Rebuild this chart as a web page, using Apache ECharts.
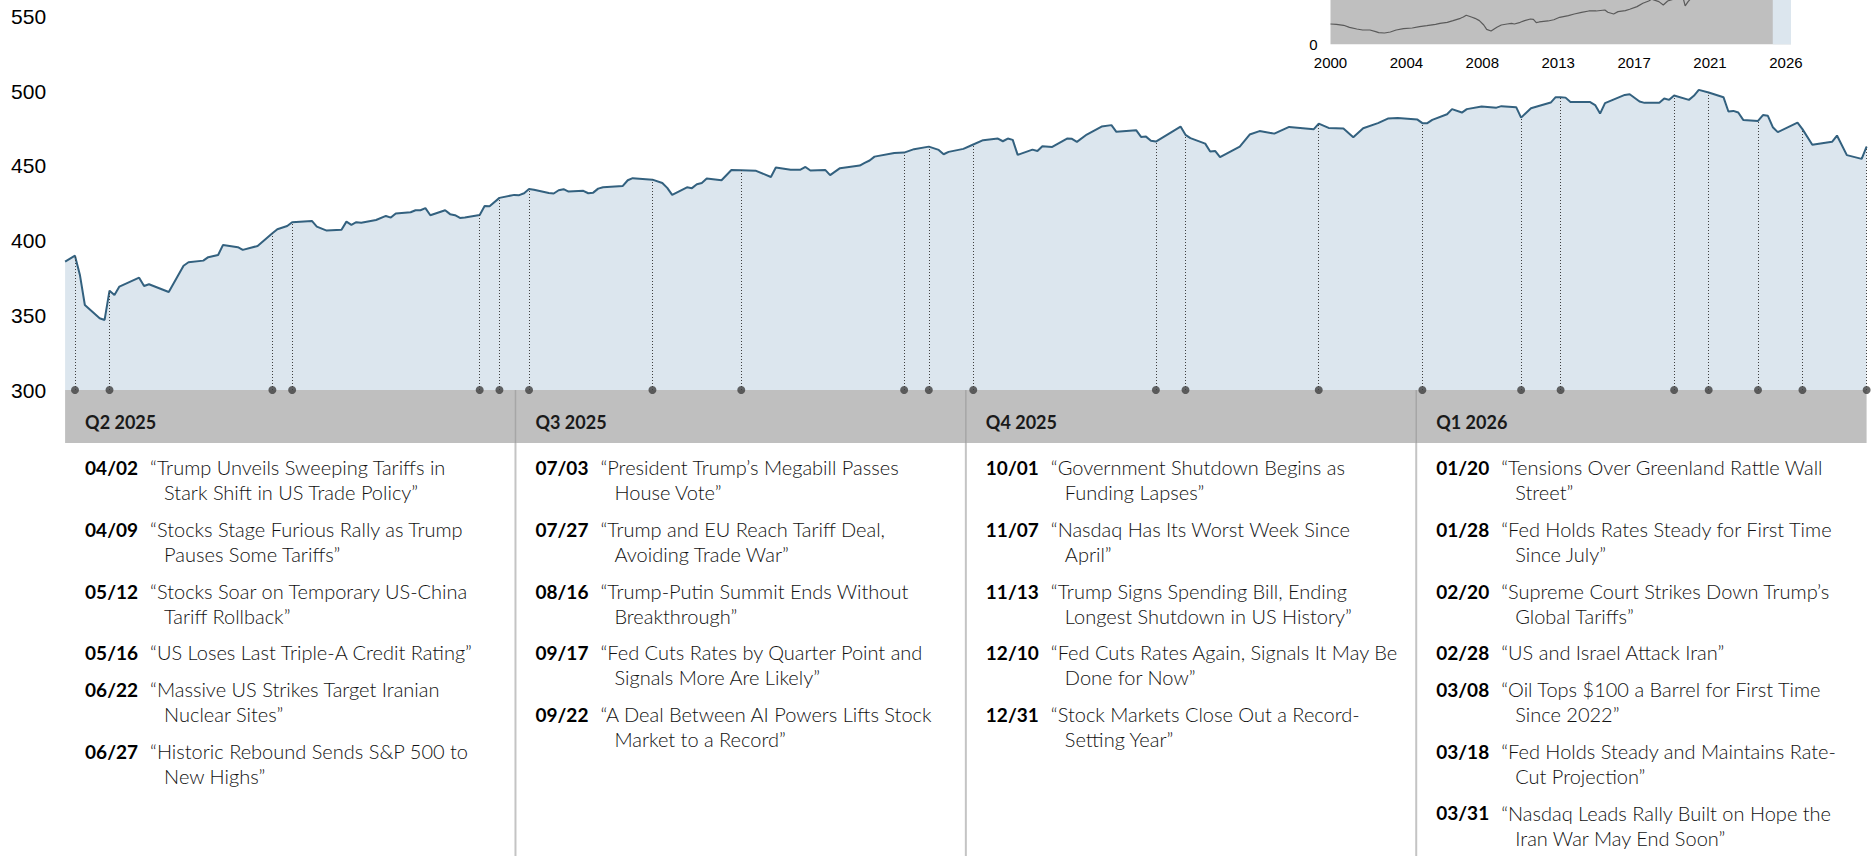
<!DOCTYPE html>
<html>
<head>
<meta charset="utf-8">
<script src="https://cdn.jsdelivr.net/npm/echarts@6/dist/echarts.min.js"></script>
<style>
  html, body { margin: 0; padding: 0; background: #fff; }
  #chart { width: 1875px; height: 856px; }
</style>
</head>
<body>
<div id="chart"></div>
<script>
// index level, rebased 2000 = 100 (daily)
const dates = [
  '2025-03-31','2025-04-02','2025-04-03','2025-04-04','2025-04-07','2025-04-08','2025-04-09','2025-04-10','2025-04-11','2025-04-15',
  '2025-04-16','2025-04-17','2025-04-21','2025-04-24','2025-04-25','2025-04-28','2025-04-29','2025-05-01','2025-05-02','2025-05-05',
  '2025-05-06','2025-05-09','2025-05-12','2025-05-13','2025-05-15','2025-05-16','2025-05-20','2025-05-21','2025-05-23','2025-05-26',
  '2025-05-27','2025-05-28','2025-05-29','2025-05-30','2025-06-02','2025-06-04','2025-06-05','2025-06-06','2025-06-09','2025-06-10',
  '2025-06-11','2025-06-12','2025-06-13','2025-06-16','2025-06-17','2025-06-18','2025-06-19','2025-06-20','2025-06-23','2025-06-24',
  '2025-06-25','2025-06-27','2025-06-30','2025-07-01','2025-07-02','2025-07-03','2025-07-04','2025-07-07','2025-07-08','2025-07-09',
  '2025-07-10','2025-07-11','2025-07-14','2025-07-15','2025-07-16','2025-07-17','2025-07-18','2025-07-22','2025-07-23','2025-07-24',
  '2025-07-28','2025-07-30','2025-07-31','2025-08-01','2025-08-04','2025-08-05','2025-08-06','2025-08-07','2025-08-08','2025-08-11',
  '2025-08-13','2025-08-15','2025-08-18','2025-08-21','2025-08-22','2025-08-25','2025-08-27','2025-08-28','2025-08-29','2025-09-01',
  '2025-09-02','2025-09-04','2025-09-08','2025-09-09','2025-09-10','2025-09-11','2025-09-15','2025-09-17','2025-09-19','2025-09-22',
  '2025-09-24','2025-09-25','2025-09-26','2025-09-29','2025-10-01','2025-10-03','2025-10-06','2025-10-07','2025-10-08','2025-10-09',
  '2025-10-10','2025-10-13','2025-10-14','2025-10-15','2025-10-17','2025-10-20','2025-10-21','2025-10-22','2025-10-24','2025-10-27',
  '2025-10-29','2025-10-30','2025-11-03','2025-11-04','2025-11-05','2025-11-06','2025-11-07','2025-11-12','2025-11-13','2025-11-14',
  '2025-11-17','2025-11-18','2025-11-19','2025-11-20','2025-11-24','2025-11-26','2025-11-28','2025-12-01','2025-12-04','2025-12-09',
  '2025-12-10','2025-12-12','2025-12-15','2025-12-17','2025-12-19','2025-12-22','2025-12-24','2025-12-26','2025-12-30','2025-12-31',
  '2026-01-01','2026-01-02','2026-01-05','2026-01-06','2026-01-08','2026-01-09','2026-01-12','2026-01-15','2026-01-16','2026-01-19',
  '2026-01-20','2026-01-22','2026-01-26','2026-01-27','2026-01-28','2026-01-29','2026-01-30','2026-02-03','2026-02-04','2026-02-05',
  '2026-02-06','2026-02-10','2026-02-11','2026-02-13','2026-02-14','2026-02-17','2026-02-18','2026-02-19','2026-02-20','2026-02-23',
  '2026-02-24','2026-02-25','2026-02-27','2026-03-02','2026-03-03','2026-03-04','2026-03-05','2026-03-06','2026-03-09','2026-03-10',
  '2026-03-11','2026-03-12','2026-03-13','2026-03-17','2026-03-18','2026-03-20','2026-03-24','2026-03-25','2026-03-27','2026-03-30',
  '2026-03-31'
];
const values = [
  385.9,389.9,377.0,356.9,348.0,346.9,366.5,363.6,369.2,375.2,
  369.6,370.8,365.6,383.2,385.5,386.6,388.9,390.4,397.1,395.6,
  393.8,396.4,404.9,407.6,409.8,412.3,413.2,409.4,406.7,407.3,
  412.7,410.5,412.3,412.0,413.8,416.5,415.4,418.2,419.0,420.3,
  420.3,421.7,417.0,420.3,417.7,417.0,415.2,415.4,417.2,423.2,
  423.0,428.6,430.6,430.4,431.7,434.6,434.1,431.9,431.5,433.7,
  434.4,432.8,433.3,431.7,432.1,434.8,435.7,436.6,440.4,441.8,
  440.8,438.6,435.3,430.6,435.7,435.1,437.7,438.6,441.5,440.4,
  447.3,447.1,446.7,442.6,448.9,447.5,447.5,449.3,446.9,447.3,
  443.8,448.5,450.2,452.0,453.6,456.2,458.7,458.9,461.2,462.9,
  460.7,457.8,459.4,461.4,464.3,467.2,468.3,466.5,468.3,467.4,
  457.4,460.9,460.0,463.2,462.7,468.3,468.1,466.1,471.0,476.3,
  477.3,472.8,473.9,469.4,469.6,466.9,466.3,476.3,470.8,468.6,
  464.9,459.6,460.0,455.8,462.9,471.0,473.3,471.6,476.1,474.6,
  478.3,475.4,475.0,469.2,475.2,478.6,481.7,482.1,481.0,478.6,
  478.6,480.8,484.6,488.0,485.7,488.0,489.7,489.0,490.0,489.3,
  482.3,488.6,492.4,496.0,495.9,495.7,492.7,492.7,490.7,485.0,
  492.0,497.5,498.0,493.1,492.2,492.2,495.1,494.2,497.1,494.2,
  496.9,500.9,499.1,496.0,486.4,486.8,485.7,480.8,480.1,484.0,
  483.5,475.9,472.6,479.0,474.6,464.1,466.1,470.3,457.2,454.7,
  462.9
];

// long-run inset (same index, monthly)
const histMonths = [
  '2000-01','2000-05','2000-10','2001-02','2001-07','2001-11','2002-04','2002-08','2002-10','2003-02',
  '2003-06','2003-10','2004-03','2004-09','2005-02','2005-07','2006-01','2006-04','2006-09','2007-01',
  '2007-06','2007-08','2007-10','2008-02','2008-04','2008-07','2008-10','2008-12','2009-03','2009-07',
  '2009-10','2010-02','2010-05','2010-07','2010-11','2011-02','2011-06','2011-08','2011-10','2011-12',
  '2012-03','2012-06','2012-10','2013-02','2013-08','2013-12','2014-05','2014-10','2015-03','2015-09',
  '2015-11','2016-03','2016-06','2016-11','2017-02','2017-07','2017-11','2018-03','2018-05','2018-10',
  '2019-01','2019-04','2019-08','2020-02','2020-04','2020-06','2020-11','2021-01','2021-07','2021-12',
  '2022-04','2022-10','2023-01','2023-07','2023-10','2023-12','2024-07','2024-12','2025-03','2025-06',
  '2025-09','2025-12','2026-03'
];
const histValues = [
  100,98.4,93.5,83.6,75.4,70.4,70.4,62.2,57.3,55.7,
  60.6,70.4,77.0,80.3,86.8,91.8,98.4,103.3,108.2,116.4,
  127.9,134,142.7,132.9,127.9,116.4,95.1,73.7,65.5,83.6,
  95.1,100,103.3,100,108.2,116.4,124.6,123,106.6,109.9,
  113.2,114.8,121,132.9,141,149.3,157.5,164,164,168.9,
  157.5,149.3,160.7,165.7,172.3,185.4,201.8,213.3,222,210,
  193.6,213.3,222,245,188.7,210,250,270,300,320,
  290,245,270,300,285,320,355,380,386,431,
  461,479,463
];
const highlightStart = '2025-04';

// headlines
const quarters = ['Q2 2025', 'Q3 2025', 'Q4 2025', 'Q1 2026'];
const eventLabels = ['04/02','04/09','05/12','05/16','06/22','06/27','07/03','07/27','08/16','09/17','09/22',
  '10/01','11/07','11/13','12/10','12/31','01/20','01/28','02/20','02/28','03/08','03/18','03/31'];
// trading day each event is pinned to on the chart
const eventDates = ['2025-04-02','2025-04-09','2025-05-12','2025-05-16','2025-06-23','2025-06-27','2025-07-03',
  '2025-07-28','2025-08-15','2025-09-17','2025-09-22','2025-10-01','2025-11-07','2025-11-13','2025-12-10',
  '2025-12-31','2026-01-20','2026-01-28','2026-02-20','2026-02-27','2026-03-09','2026-03-18','2026-03-31'];
const headlines = [
  '“Trump Unveils Sweeping Tariffs in\nStark Shift in US Trade Policy”',
  '“Stocks Stage Furious Rally as Trump\nPauses Some Tariffs”',
  '“Stocks Soar on Temporary US-China\nTariff Rollback”',
  '“US Loses Last Triple-A Credit Rating”',
  '“Massive US Strikes Target Iranian\nNuclear Sites”',
  '“Historic Rebound Sends S&P 500 to\nNew Highs”',
  '“President Trump’s Megabill Passes\nHouse Vote”',
  '“Trump and EU Reach Tariff Deal,\nAvoiding Trade War”',
  '“Trump-Putin Summit Ends Without\nBreakthrough”',
  '“Fed Cuts Rates by Quarter Point and\nSignals More Are Likely”',
  '“A Deal Between AI Powers Lifts Stock\nMarket to a Record”',
  '“Government Shutdown Begins as\nFunding Lapses”',
  '“Nasdaq Has Its Worst Week Since\nApril”',
  '“Trump Signs Spending Bill, Ending\nLongest Shutdown in US History”',
  '“Fed Cuts Rates Again, Signals It May Be\nDone for Now”',
  '“Stock Markets Close Out a Record-\nSetting Year”',
  '“Tensions Over Greenland Rattle Wall\nStreet”',
  '“Fed Holds Rates Steady for First Time\nSince July”',
  '“Supreme Court Strikes Down Trump’s\nGlobal Tariffs”',
  '“US and Israel Attack Iran”',
  '“Oil Tops $100 a Barrel for First Time\nSince 2022”',
  '“Fed Holds Steady and Maintains Rate-\nCut Projection”',
  '“Nasdaq Leads Rally Built on Hope the\nIran War May End Soon”'
];

// ---- helpers
function ts(d) {
  const p = d.split('-').map(Number);
  return new Date(p[0], p[1] - 1, p[2] || 1).getTime();
}
function monthIndex(m) {
  const p = m.split('-').map(Number);
  return (p[0] - 2000) * 12 + p[1] - 1;
}
function quarterOf(d) {
  const p = d.split('-').map(Number);
  return (p[0] - 2025) * 4 + Math.floor((p[1] - 1) / 3) - 1;
}
function valueAt(d) {
  return values[dates.indexOf(d)];
}

// layout
const plotLeft = 65.1, plotRight = 1866.6, plotTop = 16.5, plotBottom = 390;
const bandBottom = 443;
const colW = (plotRight - plotLeft) / 4;

function textEl(x, baseline, text, weight, size, color) {
  return {
    type: 'text', x: x, y: baseline - 0.3 * size, silent: true, z: 10,
    style: {
      text: text, fontFamily: 'Lato', fontWeight: weight, fontSize: size, fill: color,
      align: 'left', verticalAlign: 'middle', textAlign: 'left', textVerticalAlign: 'middle'
    }
  };
}

const elements = [];
elements.push({
  type: 'rect', silent: true, z: 1,
  shape: { x: plotLeft, y: plotBottom, width: plotRight - plotLeft, height: bandBottom - plotBottom },
  style: { fill: '#bfbfbf' }
});
for (let i = 1; i < 4; i++) {
  const x = plotLeft + i * colW;
  elements.push({ type: 'line', silent: true, z: 2,
    shape: { x1: x, y1: plotBottom, x2: x, y2: bandBottom }, style: { stroke: '#a6a6a6', lineWidth: 1.5 } });
  elements.push({ type: 'line', silent: true, z: 2,
    shape: { x1: x, y1: bandBottom, x2: x, y2: 856 }, style: { stroke: '#c4c4c4', lineWidth: 2 } });
}
quarters.forEach(function (q, i) {
  elements.push(textEl(plotLeft + i * colW + 20, 427.7, q, 'bold', 18, '#1a1a1a'));
});

const cursor = [473.3, 473.3, 473.3, 473.3];
eventDates.forEach(function (d, i) {
  const q = quarterOf(d);
  const x0 = plotLeft + q * colW;
  const y = cursor[q];
  elements.push(textEl(x0 + 20, y, eventLabels[i], 'bold', 19, '#000'));
  const lines = headlines[i].split('\n');
  lines.forEach(function (ln, k) {
    elements.push(textEl(x0 + (k ? 99 : 85), y + k * 25, ln, 300, 20, '#111'));
  });
  cursor[q] = y + (lines.length - 1) * 25 + 36.7;
});

const chart = echarts.init(document.getElementById('chart'), null, { renderer: 'svg' });

const option = {
  animation: false,
  grid: [
    { left: plotLeft, top: plotTop, width: plotRight - plotLeft, height: plotBottom - plotTop },
    { left: 1330.5, top: 0, width: 460.5, height: 44.3, show: true, backgroundColor: '#bfbfbf', borderWidth: 0 }
  ],
  xAxis: [
    {
      type: 'time', gridIndex: 0, min: ts('2025-03-31'), max: ts('2026-03-31'),
      axisLine: { show: false }, axisTick: { show: false }, axisLabel: { show: false }, splitLine: { show: false }
    },
    {
      type: 'value', gridIndex: 1, min: 0, max: 315.5, interval: 52,
      axisLine: { show: false }, axisTick: { show: false }, splitLine: { show: false },
      axisLabel: {
        margin: 11, fontFamily: 'Liberation Sans', fontSize: 15, color: '#000', showMaxLabel: false,
        formatter: function (v) { return String(2000 + Math.floor(v / 12)); }
      }
    }
  ],
  yAxis: [
    {
      type: 'value', gridIndex: 0, min: 300, max: 550, interval: 50,
      axisLine: { show: false }, axisTick: { show: false }, splitLine: { show: false },
      axisLabel: { margin: 19, fontFamily: 'Liberation Sans', fontSize: 21, color: '#000' }
    },
    {
      type: 'value', gridIndex: 1, min: 0, max: 218, interval: 500,
      axisLine: { show: false }, axisTick: { show: false }, splitLine: { show: false },
      axisLabel: {
        margin: 13, fontFamily: 'Liberation Sans', fontSize: 15, color: '#000', showMaxLabel: false,
        formatter: function (v) { return v === 0 ? '0' : ''; }
      }
    }
  ],
  series: [
    {
      type: 'line', xAxisIndex: 0, yAxisIndex: 0, z: 2,
      data: dates.map(function (d, i) { return [ts(d), values[i]]; }),
      showSymbol: false, symbol: 'none',
      lineStyle: { color: '#33617f', width: 2 },
      areaStyle: { color: '#dce6ee', opacity: 1 }
    },
    {
      type: 'scatter', xAxisIndex: 0, yAxisIndex: 0, z: 5, clip: false,
      data: eventDates.map(function (d) { return [ts(d), 300]; }),
      symbolSize: 8, itemStyle: { color: '#404040' },
      markLine: {
        silent: true, symbol: ['none', 'none'], label: { show: false },
        lineStyle: { type: [1, 2], color: '#404040', width: 1 },
        data: eventDates.map(function (d) {
          return [{ coord: [ts(d), 300] }, { coord: [ts(d), valueAt(d)] }];
        })
      }
    },
    {
      // highlight of the period shown in the main chart
      type: 'line', xAxisIndex: 1, yAxisIndex: 1, z: 1,
      data: histMonths.map(function (m, i) { return [monthIndex(m), histValues[i]]; }),
      showSymbol: false, symbol: 'none', lineStyle: { opacity: 0 },
      markArea: {
        silent: true, itemStyle: { color: '#dce6ee' },
        data: [[{ xAxis: monthIndex(highlightStart) }, { xAxis: 315.5 }]]
      }
    },
    {
      type: 'line', xAxisIndex: 1, yAxisIndex: 1, z: 3, clip: true,
      data: histMonths.map(function (m, i) { return [monthIndex(m), histValues[i]]; }),
      showSymbol: false, symbol: 'none',
      lineStyle: { color: '#5a5a5a', width: 1.2 }
    }
  ],
  graphic: { elements: elements }
};

chart.setOption(option);
</script>
</body>
</html>
